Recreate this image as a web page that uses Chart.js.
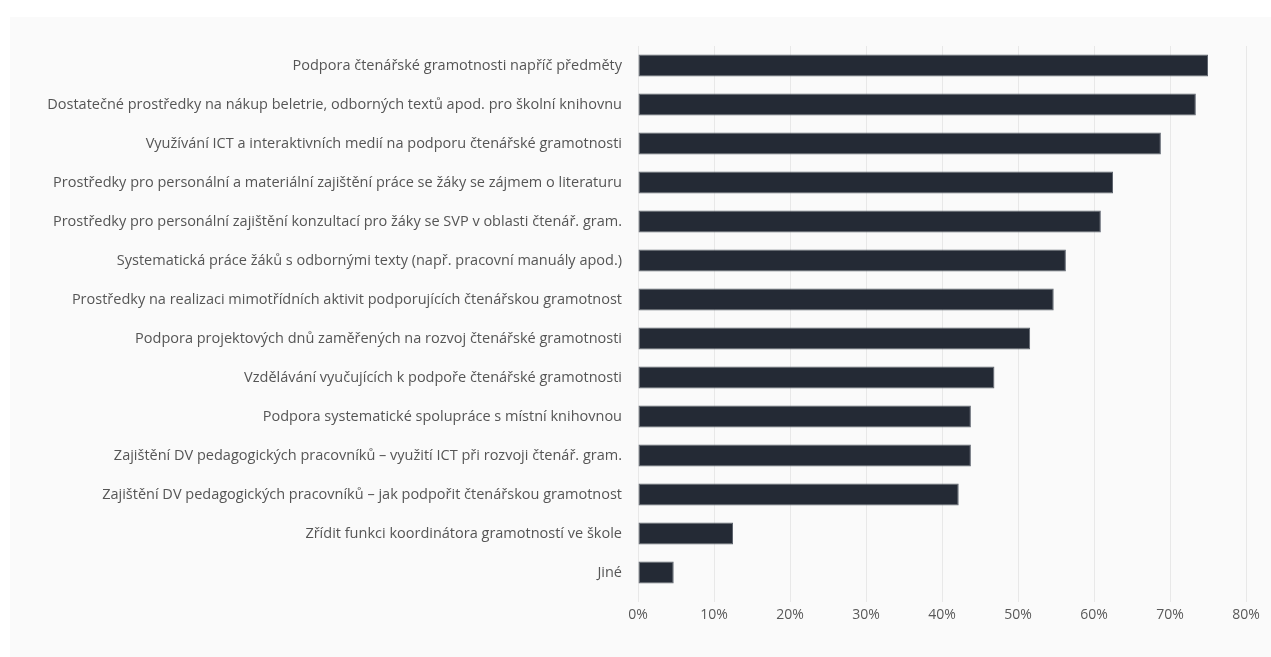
<!DOCTYPE html>
<html>
<head>
<meta charset="utf-8">
<script src="https://cdn.jsdelivr.net/npm/chart.js@4/dist/chart.umd.min.js"></script>
<style>
  html, body { margin: 0; padding: 0; background: #ffffff; }
  #wrap { position: relative; width: 1271px; height: 657px; }
  canvas { display: block; }
</style>
</head>
<body>
<div id="wrap"><canvas id="c" width="1271" height="657"></canvas></div>
<script>
const categories = [
  "Podpora čtenářské gramotnosti napříč předměty",
  "Dostatečné prostředky na nákup beletrie, odborných textů apod. pro školní knihovnu",
  "Využívání ICT a interaktivních medií na podporu čtenářské gramotnosti",
  "Prostředky pro personální a materiální zajištění práce se žáky se zájmem o literaturu",
  "Prostředky pro personální zajištění konzultací pro žáky se SVP v oblasti čtenář. gram.",
  "Systematická práce žáků s odbornými texty (např. pracovní manuály apod.)",
  "Prostředky na realizaci mimotřídních aktivit podporujících čtenářskou gramotnost",
  "Podpora projektových dnů zaměřených na rozvoj čtenářské gramotnosti",
  "Vzdělávání vyučujících k podpoře čtenářské gramotnosti",
  "Podpora systematické spolupráce s místní knihovnou",
  "Zajištění DV pedagogických pracovníků – využití ICT při rozvoji čtenář. gram.",
  "Zajištění DV pedagogických pracovníků – jak podpořit čtenářskou gramotnost",
  "Zřídit funkci koordinátora gramotností ve škole",
  "Jiné"
];
const values = [75.0, 73.4, 68.8, 62.5, 60.9, 56.3, 54.7, 51.6, 46.9, 43.8, 43.8, 42.2, 12.5, 4.7];
const axisMin = 0;
const axisMax = 80;
const axisStep = 10;

const panelPlugin = {
  id: 'panel',
  beforeDraw(chart) {
    const ctx = chart.ctx;
    ctx.save();
    ctx.fillStyle = '#fafafa';
    ctx.fillRect(10, 17, chart.width - 10, chart.height - 17);
    ctx.restore();
  }
};

const FONT = "'Open Sans', 'Noto Sans', sans-serif";

new Chart(document.getElementById('c'), {
  type: 'bar',
  data: {
    labels: categories,
    datasets: [{
      data: values,
      backgroundColor: '#242a35',
      borderColor: '#5d636d',
      borderWidth: 1,
      borderSkipped: false,
      barPercentage: 0.565,
      categoryPercentage: 1.0
    }]
  },
  plugins: [panelPlugin],
  options: {
    indexAxis: 'y',
    responsive: false,
    animation: false,
    devicePixelRatio: 1,
    layout: { padding: { top: 46, right: 25, left: 0, bottom: 0 } },
    plugins: {
      legend: { display: false },
      tooltip: { enabled: false },
      title: { display: false }
    },
    scales: {
      x: {
        min: axisMin,
        max: axisMax,
        position: 'bottom',
        afterFit(scale) { scale.height = 65; },
        grid: {
          color: '#e8e8e8',
          lineWidth: 1,
          drawTicks: true,
          tickLength: 10,
          tickColor: '#e8e8e8'
        },
        border: { display: false },
        ticks: {
          stepSize: axisStep,
          padding: 5,
          color: '#595959',
          font: { family: FONT, size: 14 },
          callback: (v) => v + '%'
        }
      },
      y: {
        afterFit(scale) { scale.width = 638; },
        grid: { display: false, drawTicks: false },
        border: { display: true, color: '#e8e8e8', width: 1 },
        ticks: {
          padding: 16,
          color: '#555555',
          font: { family: FONT, size: 14.5 },
          autoSkip: false
        }
      }
    }
  }
});
</script>
</body>
</html>
